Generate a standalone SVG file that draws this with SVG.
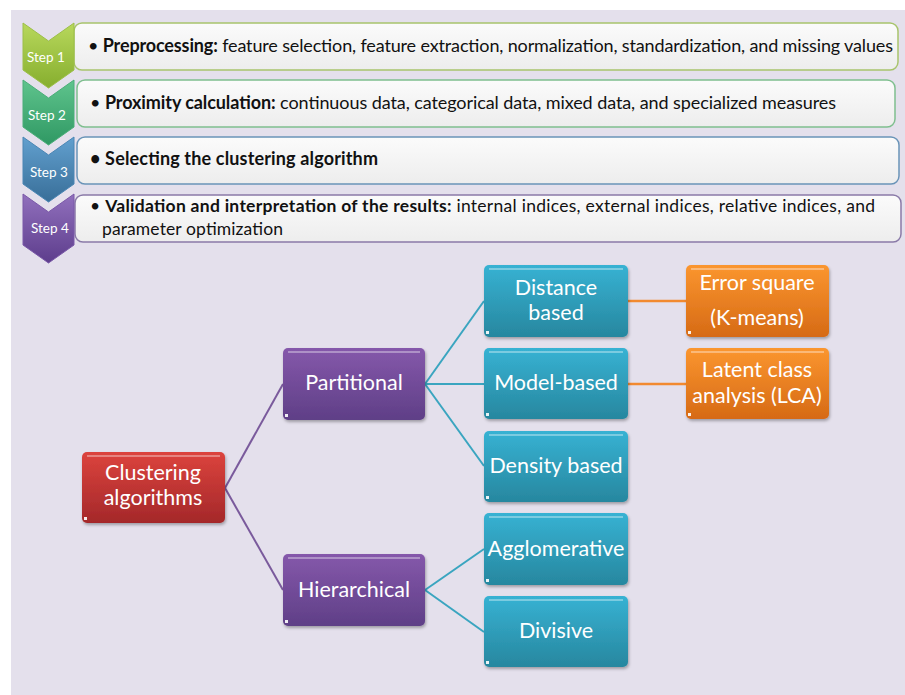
<svg xmlns="http://www.w3.org/2000/svg" width="905" height="695" viewBox="0 0 905 695">
<defs>
<linearGradient id="gS1" x1="0" y1="0" x2="0" y2="1"><stop offset="0" stop-color="#b8d85c"/><stop offset="1" stop-color="#86ae2e"/></linearGradient>
<linearGradient id="gS2" x1="0" y1="0" x2="0" y2="1"><stop offset="0" stop-color="#5fc48d"/><stop offset="1" stop-color="#2f9863"/></linearGradient>
<linearGradient id="gS3" x1="0" y1="0" x2="0" y2="1"><stop offset="0" stop-color="#62a0cf"/><stop offset="1" stop-color="#386e98"/></linearGradient>
<linearGradient id="gS4" x1="0" y1="0" x2="0" y2="1"><stop offset="0" stop-color="#9170bd"/><stop offset="1" stop-color="#5d3d8c"/></linearGradient>
<linearGradient id="gBox" x1="0" y1="0" x2="0" y2="1"><stop offset="0" stop-color="#fbfbfb"/><stop offset="1" stop-color="#ededed"/></linearGradient>
<linearGradient id="gRed" x1="0" y1="0" x2="0" y2="1"><stop offset="0" stop-color="#dc433d"/><stop offset="1" stop-color="#a4282a"/></linearGradient>
<linearGradient id="gPur" x1="0" y1="0" x2="0" y2="1"><stop offset="0" stop-color="#8558ab"/><stop offset="1" stop-color="#5f3f87"/></linearGradient>
<linearGradient id="gTeal" x1="0" y1="0" x2="0" y2="1"><stop offset="0" stop-color="#37b2d3"/><stop offset="1" stop-color="#27879f"/></linearGradient>
<linearGradient id="gOr" x1="0" y1="0" x2="0" y2="1"><stop offset="0" stop-color="#fb962f"/><stop offset="1" stop-color="#d66a15"/></linearGradient>
<filter id="sh" x="-10%" y="-10%" width="130%" height="130%"><feDropShadow dx="1" dy="2" stdDeviation="1.5" flood-color="#000" flood-opacity="0.3"/></filter>
</defs>
<style>
.step{font-family:Lato,"Liberation Sans",sans-serif;font-size:13.5px;fill:#ffffff}
.txt{font-family:Lato,"Liberation Sans",sans-serif;font-size:18px;fill:#111111}
.t4{font-size:17.5px}
.b{font-weight:bold}
.nt{font-family:Lato,"Liberation Sans",sans-serif;font-size:21.5px;fill:#ffffff;text-anchor:middle}
.hl{fill:none;stroke:#ffffff;stroke-opacity:0.35;stroke-width:2}
.dot{fill:#ffffff;fill-opacity:0.9}
.c1{stroke:#7a5a9c;stroke-width:2;fill:none}
.c2{stroke:#3aa5c0;stroke-width:2;fill:none}
.c3{stroke:#f28a30;stroke-width:2.5;fill:none}
</style>
<rect x="0" y="0" width="905" height="695" fill="#ffffff"/>
<rect x="11" y="10" width="894" height="685" fill="#e4e0ec"/>

<g id="step1">
<rect x="74" y="23" width="824" height="47" rx="8" fill="url(#gBox)" stroke="#a8c46c" stroke-width="1.5"/>
<polygon points="23,23 48.5,41 74,23 74,70 48.5,88 23,70" fill="url(#gS1)" stroke="#9cbf48" stroke-width="1"/>
<text class="step" x="27" y="62">Step  1</text>
<text class="txt" x="88" y="52" textLength="805">• <tspan class="b">Preprocessing:</tspan> feature selection, feature extraction, normalization, standardization, and missing values</text>
</g>
<g id="step2">
<rect x="77" y="80" width="818" height="47" rx="8" fill="url(#gBox)" stroke="#7fbf8f" stroke-width="1.5"/>
<polygon points="23,80 48.5,98 74,80 74,127 48.5,145 23,127" fill="url(#gS2)" stroke="#4aae78" stroke-width="1"/>
<text class="step" x="28" y="120">Step 2</text>
<text class="txt" x="90" y="109" textLength="746">• <tspan class="b">Proximity calculation:</tspan> continuous data, categorical data, mixed data, and specialized measures</text>
</g>
<g id="step3">
<rect x="77" y="137" width="822" height="47" rx="8" fill="url(#gBox)" stroke="#6a94b8" stroke-width="1.5"/>
<polygon points="23,137 48.5,155 74,137 74,184 48.5,202 23,184" fill="url(#gS3)" stroke="#4a86b4" stroke-width="1"/>
<text class="step" x="30" y="177">Step 3</text>
<text class="txt b" x="90" y="165" textLength="288">• Selecting the clustering algorithm</text>
</g>
<g id="step4">
<rect x="75" y="195" width="826" height="47" rx="8" fill="url(#gBox)" stroke="#8a7aa8" stroke-width="1.5"/>
<polygon points="23,194 48.5,212 74,194 74,245 48.5,263 23,245" fill="url(#gS4)" stroke="#7a58a8" stroke-width="1"/>
<text class="step" x="31" y="233">Step 4</text>
<text class="txt t4" x="90" y="212" textLength="785">• <tspan class="b">Validation and interpretation of the results:</tspan> internal indices, external indices, relative indices, and</text>
<text class="txt t4" x="102" y="234.5" textLength="181">parameter optimization</text>
</g>

<g id="connectors">
<line class="c1" x1="225" y1="488" x2="283" y2="384"/>
<line class="c1" x1="225" y1="488" x2="283" y2="590"/>
<line class="c2" x1="425" y1="384" x2="484" y2="301"/>
<line class="c2" x1="425" y1="384" x2="484" y2="384"/>
<line class="c2" x1="425" y1="384" x2="484" y2="466"/>
<line class="c2" x1="425" y1="590" x2="484" y2="549"/>
<line class="c2" x1="425" y1="590" x2="484" y2="632"/>
<line class="c3" x1="628" y1="301" x2="686" y2="301"/>
<line class="c3" x1="628" y1="384" x2="686" y2="384"/>
</g>

<g id="n-clustering">
<rect x="82" y="452" width="143" height="71" rx="5" fill="url(#gRed)" filter="url(#sh)"/>
<line class="hl" x1="87" y1="456" x2="220" y2="456"/>
<rect class="dot" x="84" y="517" width="3" height="3"/>
<text class="nt" x="153" y="480">Clustering</text>
<text class="nt" x="153" y="505">algorithms</text>
</g>
<g id="n-partitional">
<rect x="283" y="348" width="142" height="72" rx="5" fill="url(#gPur)" filter="url(#sh)"/>
<line class="hl" x1="288" y1="352" x2="420" y2="352"/>
<rect class="dot" x="285" y="414" width="3" height="3"/>
<text class="nt" x="354" y="390">Partitional</text>
</g>
<g id="n-hierarchical">
<rect x="283" y="554" width="142" height="72" rx="5" fill="url(#gPur)" filter="url(#sh)"/>
<line class="hl" x1="288" y1="558" x2="420" y2="558"/>
<rect class="dot" x="285" y="620" width="3" height="3"/>
<text class="nt" x="354" y="597">Hierarchical</text>
</g>
<g id="n-distance">
<rect x="484" y="265" width="144" height="72" rx="5" fill="url(#gTeal)" filter="url(#sh)"/>
<line class="hl" x1="489" y1="269" x2="623" y2="269"/>
<rect class="dot" x="486" y="331" width="3" height="3"/>
<text class="nt" x="556" y="295">Distance</text>
<text class="nt" x="556" y="320">based</text>
</g>
<g id="n-model">
<rect x="484" y="348" width="144" height="71" rx="5" fill="url(#gTeal)" filter="url(#sh)"/>
<line class="hl" x1="489" y1="352" x2="623" y2="352"/>
<rect class="dot" x="486" y="413" width="3" height="3"/>
<text class="nt" x="556" y="390">Model-based</text>
</g>
<g id="n-density">
<rect x="484" y="431" width="144" height="71" rx="5" fill="url(#gTeal)" filter="url(#sh)"/>
<line class="hl" x1="489" y1="435" x2="623" y2="435"/>
<rect class="dot" x="486" y="496" width="3" height="3"/>
<text class="nt" x="556" y="473">Density based</text>
</g>
<g id="n-agglomerative">
<rect x="484" y="513" width="144" height="72" rx="5" fill="url(#gTeal)" filter="url(#sh)"/>
<line class="hl" x1="489" y1="517" x2="623" y2="517"/>
<rect class="dot" x="486" y="579" width="3" height="3"/>
<text class="nt" x="556" y="556">Agglomerative</text>
</g>
<g id="n-divisive">
<rect x="484" y="596" width="144" height="71" rx="5" fill="url(#gTeal)" filter="url(#sh)"/>
<line class="hl" x1="489" y1="600" x2="623" y2="600"/>
<rect class="dot" x="486" y="661" width="3" height="3"/>
<text class="nt" x="556" y="638">Divisive</text>
</g>
<g id="n-error">
<rect x="686" y="265" width="143" height="72" rx="5" fill="url(#gOr)" filter="url(#sh)"/>
<line class="hl" x1="691" y1="269" x2="824" y2="269"/>
<rect class="dot" x="688" y="331" width="3" height="3"/>
<text class="nt" x="757" y="290">Error square</text>
<text class="nt" x="757" y="325">(K-means)</text>
</g>
<g id="n-latent">
<rect x="686" y="348" width="143" height="71" rx="5" fill="url(#gOr)" filter="url(#sh)"/>
<line class="hl" x1="691" y1="352" x2="824" y2="352"/>
<rect class="dot" x="688" y="413" width="3" height="3"/>
<text class="nt" x="757" y="377">Latent class</text>
<text class="nt" x="757" y="403">analysis (LCA)</text>
</g>
</svg>
